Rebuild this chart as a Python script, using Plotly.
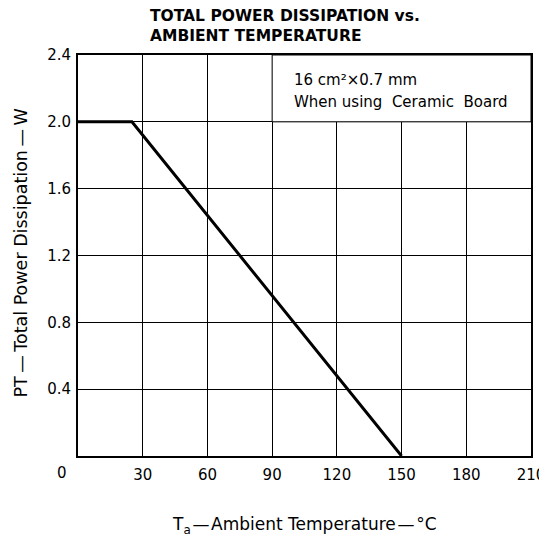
import plotly.graph_objects as go

# derating curve (Ta in degC, Pt in W)
ta = [0, 25, 150]
pt = [2.0, 2.0, 0.0]

x_ticks = [30, 60, 90, 120, 150, 180, 210]
y_ticks = [0.4, 0.8, 1.2, 1.6, 2.0, 2.4]

font = "DejaVu Sans, Arial, sans-serif"
# the page body has an 8px margin, so the figure is made 8px smaller
W, H = 539, 532
L, R, T, B = 70, 16, 47, 84
pw, ph = W - L - R, H - T - B

fig = go.Figure()

# white note box in the upper right (hides the grid there)
fig.add_shape(type="rect", x0=90, x1=210, y0=2.0, y1=2.4, xref="x", yref="y",
              fillcolor="white", line=dict(color="black", width=1), layer="above")

fig.add_trace(go.Scatter(x=ta, y=pt, mode="lines",
                         line=dict(color="black", width=3), showlegend=False))

fig.update_xaxes(range=[0, 210], tickvals=x_ticks, ticks="", showgrid=True,
                 gridcolor="black", gridwidth=1, showline=True, linecolor="black",
                 linewidth=2, mirror=True, zeroline=False, automargin=False,
                 ticklabelstandoff=4,
                 tickfont=dict(size=15, color="black", family=font))
fig.update_yaxes(range=[0, 2.4], tickvals=y_ticks, tickformat=".1f", ticks="",
                 showgrid=True, gridcolor="black", gridwidth=1, showline=True,
                 linecolor="black", linewidth=2, mirror=True, zeroline=False,
                 automargin=False, ticklabelstandoff=2,
                 tickfont=dict(size=15, color="black", family=font))

# axis titles
fig.add_annotation(x=0.5, y=0, xref="paper", yref="paper", yanchor="middle",
                   yshift=-69, showarrow=False,
                   text="T<sub>a</sub>\u200a\u2014\u200aAmbient Temperature\u200a\u2014\u200a\u00b0C",
                   font=dict(size=17, color="black", family=font))
fig.add_annotation(x=0, y=0.5, xref="paper", yref="paper", xanchor="center",
                   xshift=-58, yshift=2, textangle=-90, showarrow=False,
                   text="PT\u2009\u2014\u2009Total Power Dissipation\u2009\u2014\u2009W",
                   font=dict(size=17.5, color="black", family=font))

# shared origin label
fig.add_annotation(x=0, y=0, xref="x", yref="y", text="0", showarrow=False,
                   xshift=-16, yshift=-17, font=dict(size=15, color="black", family=font))

# note text
fig.add_annotation(x=99, y=2.25, xref="x", yref="y", xanchor="left", yanchor="middle",
                   text="16 cm\u00b2\u00d70.7 mm", showarrow=False, align="left",
                   font=dict(size=15, color="black", family=font))
fig.add_annotation(x=99, y=2.12, xref="x", yref="y", xanchor="left", yanchor="middle",
                   text="When using  Ceramic  Board", showarrow=False, align="left",
                   font=dict(size=15, color="black", family=font))

# title, left aligned above the plot
fig.add_annotation(x=(140 - L) / pw, y=1 + (T - 18.5) / ph, xref="paper", yref="paper",
                   xanchor="left", yanchor="middle",
                   text="<b>TOTAL POWER DISSIPATION vs.<br>AMBIENT TEMPERATURE</b>",
                   showarrow=False, align="left",
                   font=dict(size=15.5, color="black", family=font))

fig.update_layout(width=W, height=H, plot_bgcolor="white", paper_bgcolor="white",
                  margin=dict(l=L, r=R, t=T, b=B), font=dict(family=font))
fig.write_html("out.html")
